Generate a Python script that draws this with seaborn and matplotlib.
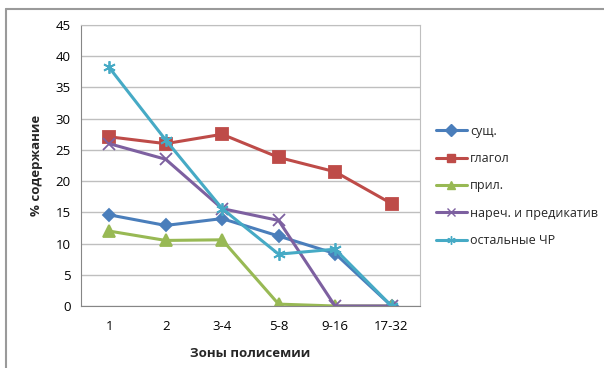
import pandas as pd
import matplotlib
matplotlib.use("Agg")
import matplotlib.pyplot as plt
import seaborn as sns
from matplotlib.lines import Line2D

zones = ['1', '2', '3-4', '5-8', '9-16', '17-32']
sush = [14.6, 12.9, 14.0, 11.2, 8.4, 0.0]
glagol = [27.1, 26.0, 27.5, 23.8, 21.5, 16.4]
pril = [12.0, 10.5, 10.6, 0.3, 0.0, 0.0]
narech = [26.0, 23.5, 15.6, 13.7, 0.0, 0.0]
ostal = [38.2, 26.6, 15.6, 8.3, 9.1, 0.0]

series_names = ['сущ.', 'глагол', 'прил.', 'нареч. и предикатив', 'остальные ЧР']
series_vals = [sush, glagol, pril, narech, ostal]

sns.set_style("white")
plt.rcParams['font.family'] = ['Open Sans', 'DejaVu Sans']

colors = ['#4A7EBB', '#BE4B48', '#98B954', '#7D60A0', '#46AAC5']
markers = ['D', 's', '^', 'x', (6, 2, 0)]
msizes = [6.5, 8, 8, 8, 9]

fig = plt.figure(figsize=(6.04, 3.68), dpi=100)
ax = fig.add_axes([0.134, 0.1685, 0.561, 0.7635])

for name, vals, c, m, ms in zip(series_names, series_vals, colors, markers, msizes):
    d = pd.DataFrame({'zone': zones, 'value': vals})
    sns.lineplot(data=d, x='zone', y='value', color=c, marker=m, markersize=ms,
                 markeredgecolor=c, markeredgewidth=1.3, linewidth=2.2,
                 sort=False, ax=ax, label=name)
ax.get_legend().remove()

ax.set_ylim(0, 45)
ax.set_yticks(range(0, 46, 5))
ax.set_xlim(-0.5, len(zones) - 0.5)
ax.yaxis.grid(True, color='#BFBFBF', linewidth=1)
ax.set_axisbelow(True)
for s in ax.spines.values():
    s.set_color('#BFBFBF')
ax.spines['bottom'].set_color('#868686')
ax.spines['left'].set_color('#868686')
ax.tick_params(axis='both', labelsize=9.5, colors='#868686', labelcolor='black',
               length=4, direction='out')
ax.tick_params(axis='x', length=0, pad=10)
ax.set_xlabel('Зоны полисемии', fontsize=9.5, fontweight='bold', labelpad=10)
ax.set_ylabel('% содержание', fontsize=9.5, fontweight='bold', labelpad=9)

handles = [Line2D([], [], color=c, marker=m, linewidth=2.2, markersize=6,
                  markeredgecolor=c, markeredgewidth=1.0)
           for c, m in zip(colors, markers)]
fig.legend(handles, series_names, loc='center left', bbox_to_anchor=(0.703, 0.495),
           frameon=False, fontsize=9, handlelength=2.5, handletextpad=0.25,
           labelspacing=1.15)

# outer chart frame
fig.add_artist(Line2D([0.01, 1.0], [0.975, 0.975], color='#9A9A9A', linewidth=1.5))
fig.add_artist(Line2D([0.01, 0.01], [0.0, 0.975], color='#9A9A9A', linewidth=1.5))

fig.savefig('out.png', dpi=100)
